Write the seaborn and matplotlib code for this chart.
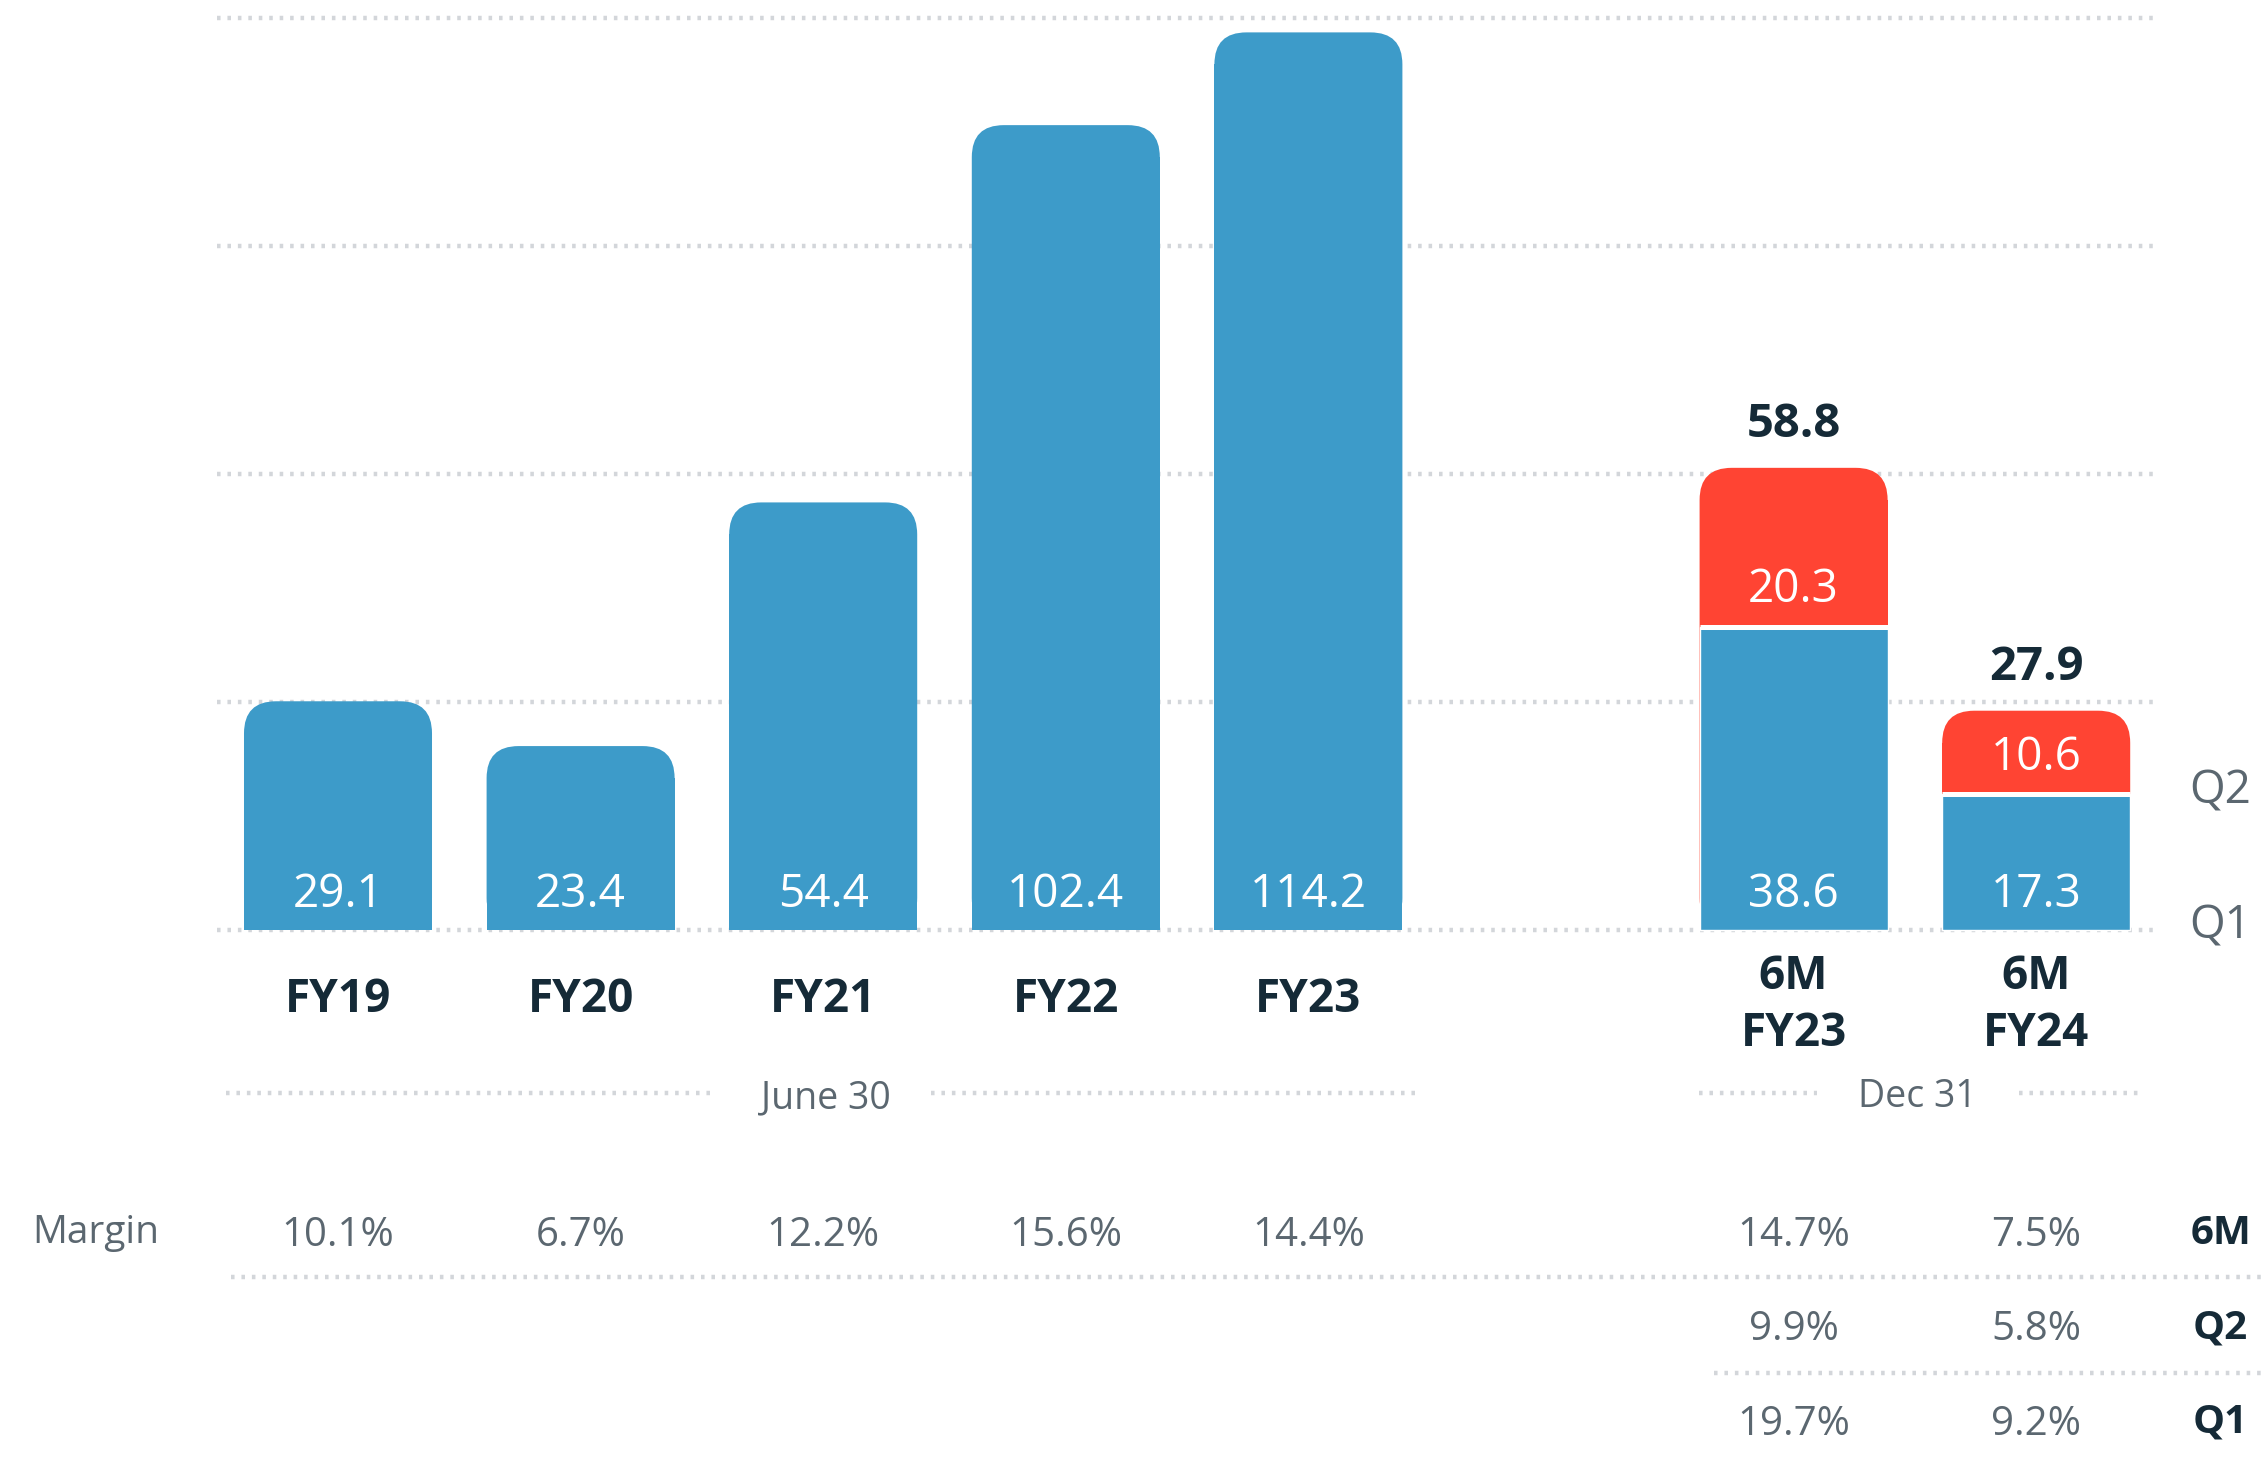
import numpy as np
import pandas as pd
import seaborn as sns
import matplotlib.pyplot as plt
from matplotlib.patches import FancyBboxPatch, Rectangle

# datos
periods = ["FY19", "FY20", "FY21", "FY22", "FY23", "6M FY23", "6M FY24"]
base_values = [29.1, 23.4, 54.4, 102.4, 114.2, 38.6, 17.3]   # annual / Q1
q2_values = [20.3, 10.6]
totals_6m = [58.8, 27.9]
slots = [0, 1, 2, 3, 4, 6, 7]
margin_6m = [10.1, 6.7, 12.2, 15.6, 14.4, 14.7, 7.5]
margin_q2 = [9.9, 5.8]
margin_q1 = [19.7, 9.2]
grid_values = [0, 29, 58, 87, 116]

BLUE = "#3d9bc9"
RED = "#ff4433"
DARK = "#152a37"
GREY = "#5b6770"
GRID = "#d3d6da"
DOTS = (0, (0.8, 1.55))
GLW = 3.2

sns.set_theme(style="white")
plt.rcParams["font.family"] = ["Open Sans", "DejaVu Sans"]

W, H = 2264, 1464
fig = plt.figure(figsize=(W / 100, H / 100), dpi=100)
ax = fig.add_axes([0, 0, 1, 1])

# px -> data
x0_px, ux = 338, 242.6
y0_px, uy = 930, 7.86
xlim = (-x0_px / ux, (W - x0_px) / ux)
ylim = (-(H - y0_px) / uy, y0_px / uy)

df = pd.DataFrame({"slot": slots, "period": periods, "value": base_values})
df6 = pd.DataFrame({"slot": slots[5:], "value": totals_6m})

sns.barplot(data=df6, x="slot", y="value", native_scale=True, width=0.775,
            color=RED, saturation=1, ax=ax, zorder=2)
sns.barplot(data=df, x="slot", y="value", native_scale=True, width=0.775,
            color=BLUE, saturation=1, ax=ax, zorder=2)
ax.set_xlim(*xlim)
ax.set_ylim(*ylim)
ax.set_axis_off()

# rounded tops (totals + annual bars); Q1 bars of the 6M stay square on top
r_px = 32
rx = r_px / ux
asp = ux / uy
ry = rx * asp
bars = list(ax.patches)
for i, rect in enumerate(bars):
    if i >= 7:
        rect.set_zorder(3)
        continue
    x, y = rect.get_x(), rect.get_y()
    w, h = rect.get_width(), rect.get_height()
    col = rect.get_facecolor()
    rect.remove()
    ax.add_patch(FancyBboxPatch((x, y), w, h, boxstyle=f"round,pad=0,rounding_size={rx}",
                                mutation_aspect=asp, fc=col, ec="none", zorder=2))
    ax.add_patch(Rectangle((x, y), w, h - ry, fc=col, ec="none", zorder=2))

# separator Q1/Q2
for s, v in zip(slots[5:], base_values[5:]):
    ax.hlines(v, s - 0.3875, s + 0.3875, color="white", lw=3.6, zorder=3.5)

# gridlines
ax.hlines(grid_values, -0.5, 7.506, color=GRID, lw=GLW, linestyles=DOTS, zorder=0)

# value labels
for s, v in zip(slots, base_values):
    ax.text(s, 4.4, f"{v:.1f}", color="white", fontsize=33, ha="center", va="center", zorder=4)
for s, b, q in zip(slots[5:], base_values[5:], q2_values):
    ax.text(s, b + 4.6, f"{q:.1f}", color="white", fontsize=33, ha="center", va="center", zorder=4)
for s, t in zip(slots[5:], totals_6m):
    ax.text(s, t + 5.5, f"{t:.1f}", color=DARK, fontsize=34, fontweight="bold",
            ha="center", va="center")

# x labels
for s, p in zip(slots, periods):
    if p.startswith("6M"):
        l1, l2 = p.split(" ")
        ax.text(s, -5.9, l1, color=DARK, fontsize=33, fontweight="bold", ha="center", va="center")
        ax.text(s, -13.2, l2, color=DARK, fontsize=33, fontweight="bold", ha="center", va="center")
    else:
        ax.text(s, -8.9, p, color=DARK, fontsize=33, fontweight="bold", ha="center", va="center")

ax.text(7.76, 17.6, "Q2", color=GREY, fontsize=33, ha="center", va="center")
ax.text(7.76, 0.4, "Q1", color=GREY, fontsize=33, ha="center", va="center")

# period groups
ax.hlines(-20.7, -0.46, 1.554, color=GRID, lw=GLW, linestyles=DOTS)
ax.hlines(-20.7, 2.446, 4.44, color=GRID, lw=GLW, linestyles=DOTS)
ax.text(2.01, -21.4, "June 30", color=GREY, fontsize=27, ha="center", va="center")
ax.hlines(-20.7, 5.61, 6.095, color=GRID, lw=GLW, linestyles=DOTS)
ax.hlines(-20.7, 6.93, 7.42, color=GRID, lw=GLW, linestyles=DOTS)
ax.text(6.51, -21.2, "Dec 31", color=GREY, fontsize=27, ha="center", va="center")

# margin table
ax.text(-1.0, -38.5, "Margin", color=GREY, fontsize=28, ha="center", va="center")
for s, m in zip(slots, margin_6m):
    ax.text(s, -38.9, f"{m:.1f}%", color=GREY, fontsize=29, ha="center", va="center")
for s, m in zip(slots[5:], margin_q2):
    ax.text(s, -50.9, f"{m:.1f}%", color=GREY, fontsize=29, ha="center", va="center")
for s, m in zip(slots[5:], margin_q1):
    ax.text(s, -62.9, f"{m:.1f}%", color=GREY, fontsize=29, ha="center", va="center")
for yy, lab in zip([-38.6, -50.6, -62.6], ["6M", "Q2", "Q1"]):
    ax.text(7.76, yy, lab, color=DARK, fontsize=29, fontweight="bold", ha="center", va="center")
ax.hlines(-44.1, -0.44, 7.94, color=GRID, lw=GLW, linestyles=DOTS)
ax.hlines(-56.4, 5.67, 7.94, color=GRID, lw=GLW, linestyles=DOTS)

fig.savefig("out.png", dpi=100, facecolor="white")
